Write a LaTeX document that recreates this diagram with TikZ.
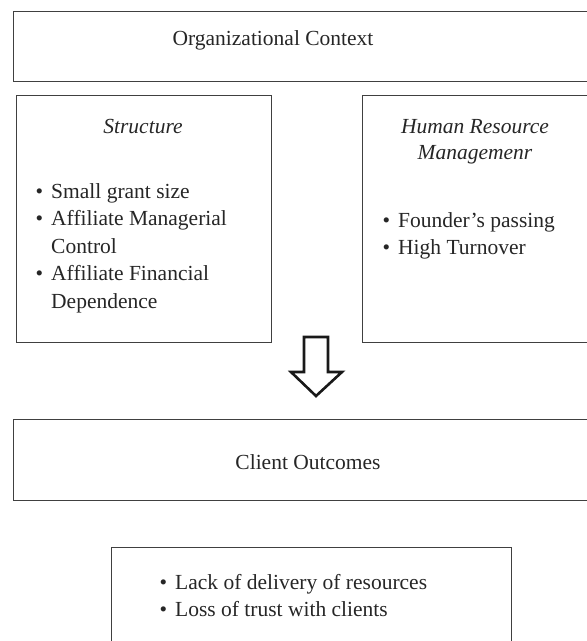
\documentclass[tikz,border=0pt]{standalone}
\usepackage{fontspec}
\setmainfont{Liberation Serif}
\usetikzlibrary{calc}
\newcommand\bulmark{\makebox[0pt][r]{\textbullet\hspace{8pt}}}
\begin{document}
\begin{tikzpicture}[x=1pt,y=-1pt,
  box/.style={draw=black!75, line width=0.9pt, anchor=north west, inner sep=0pt},
  txt/.style={font=\fontsize{21.5}{27}\selectfont, text=black!85, inner sep=0pt, anchor=base},
  itm/.style={txt, anchor=base west},
  blockarrow/.style={draw=black!90, line width=2.6pt, line join=miter, fill=white}]
\useasboundingbox (0,0) rectangle (587,641);
\clip (0,0) rectangle (587,641);

% frames
\node[box, minimum width=600pt, minimum height=70pt] (ctx) at (13,11) {};
\node[box, minimum width=255pt, minimum height=247pt] (struct) at (16,95) {};
\node[box, minimum width=240pt, minimum height=247pt] (hrm) at (362,95) {};
\node[box, minimum width=600pt, minimum height=81pt] (client) at (13,419) {};
\node[box, minimum width=400pt, minimum height=120pt] (effects) at (111,547) {};

% headings
\node[txt] (ctxlbl) at (273,45) {Organizational Context};
\node[txt] (structlbl) at (143,133) {\itshape Structure};
\node[txt] (hrlblA) at (475,133) {\itshape Human Resource};
\node[txt] (hrlblB) at (475,159) {\itshape Managemenr};
\node[txt] (clientlbl) at (308,469) {Client Outcomes};

% structure items
\node[itm] (s1) at (51,198) {\bulmark Small grant size};
\node[itm] (s2) at (51,225.5) {\bulmark Affiliate Managerial};
\node[itm] (s3) at (51,253) {Control};
\node[itm] (s4) at (51,280.5) {\bulmark Affiliate Financial};
\node[itm] (s5) at (51,308) {Dependence};

% human resource items
\node[itm] (h1) at (398,227) {\bulmark Founder's passing};
\node[itm] (h2) at (398,254) {\bulmark High Turnover};

% outcome items
\node[itm] (o1) at (175,589) {\bulmark Lack of delivery of resources};
\node[itm] (o2) at (175,616) {\bulmark Loss of trust with clients};

% hollow block arrow between the two levels
\coordinate (arrtop) at (316,337);
\coordinate (arrtip) at (316,396);
\draw[blockarrow] ($(arrtop)+(-12,0)$) -- ($(arrtop)+(12,0)$) -- (328,372) -- (342,372)
  -- (arrtip) -- (291,372) -- (304,372) -- cycle;
\end{tikzpicture}
\end{document}
